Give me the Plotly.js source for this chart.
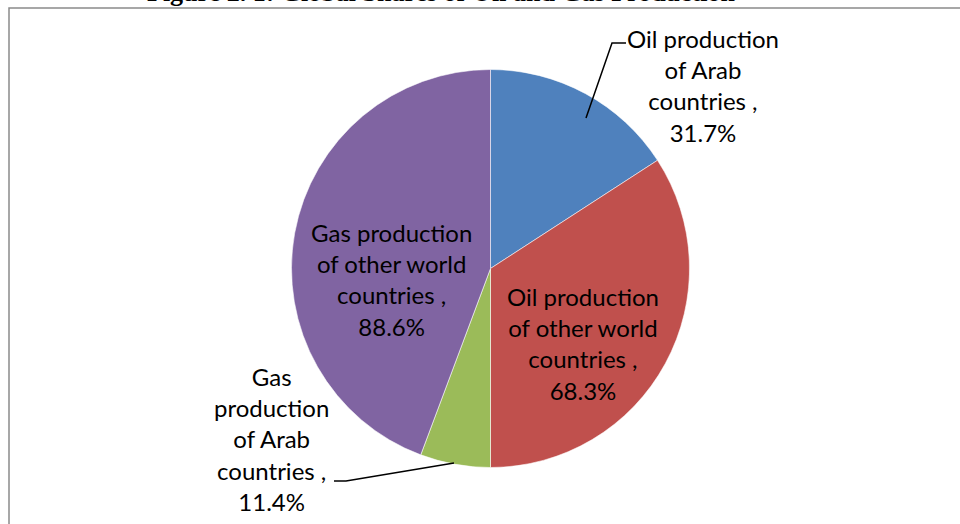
<!DOCTYPE html>
<html>
<head>
<meta charset="utf-8">
<script src="https://cdn.plot.ly/plotly-3.0.1.min.js"></script>
<style>html,body{margin:0;padding:0;background:#fff;}#chart{width:960px;height:524px;}</style>
</head>
<body>
<div id="chart"></div>
<script>
// ---- data ----
var categories = [
  "Oil production of Arab countries",
  "Oil production of other world countries",
  "Gas production of Arab countries",
  "Gas production of other world countries"
];
var shares = [31.7, 68.3, 11.4, 88.6];
var wrappedLabels = [
  "Oil production<br>of Arab<br>countries ,",
  "Oil production<br>of other world<br>countries ,",
  "Gas<br>production<br>of Arab<br>countries ,",
  "Gas production<br>of other world<br>countries ,"
];
var titleText = "Figure 2. 1: Global Shares of Oil and Gas Production";

// ---- styling ----
var colors = ["#4F81BD", "#C0504D", "#9BBB59", "#8064A2"];
var W = 960, H = 524;
function px(x) { return x / W; }
function py(y) { return 1 - y / H; }
// label centres (pixels)
var labelPos = [[703, 85], [583, 343], [271, 439], [391, 279]];
var labelFont = {family: "Lato, 'Open Sans', sans-serif", size: 24, color: "#000"};

var annotations = categories.map(function (c, i) {
  return {
    xref: "paper", yref: "paper",
    x: px(labelPos[i][0]), y: py(labelPos[i][1]),
    xanchor: "center", yanchor: "middle",
    text: wrappedLabels[i] + "<br>" + shares[i].toFixed(1) + "%",
    showarrow: false, align: "center", font: labelFont
  };
});
annotations.push({
  xref: "paper", yref: "paper", x: px(441), y: py(9),
  xanchor: "center", yanchor: "bottom",
  text: "<b>" + titleText + "</b>", showarrow: false,
  font: {family: "'Liberation Serif', 'Times New Roman', serif", size: 26, color: "#000"}
});

var cx = 490.5, cy = 268.5, r = 199;
var trace = {
  type: "pie",
  labels: categories,
  values: shares,
  sort: false,
  direction: "clockwise",
  rotation: 0,
  textinfo: "none",
  hoverinfo: "label+value",
  showlegend: false,
  marker: {colors: colors, line: {color: "rgba(255,255,255,0.55)", width: 1}},
  domain: {x: [px(cx - r), px(cx + r)], y: [py(cy + r), py(cy - r)]}
};

function path(pts) {
  return pts.map(function (p, i) { return (i ? "L" : "M") + px(p[0]) + "," + py(p[1]); }).join(" ");
}

var layout = {
  width: W, height: H,
  margin: {l: 0, r: 0, t: 0, b: 0},
  paper_bgcolor: "#fff",
  annotations: annotations,
  shapes: [
    {type: "rect", xref: "paper", yref: "paper", x0: px(9), x1: 1.02, y0: -0.02, y1: py(8),
     line: {color: "#8a8a8a", width: 1.5}},
    {type: "path", xref: "paper", yref: "paper", path: path([[626, 43], [612, 43], [586, 118]]),
     line: {color: "#000", width: 1.5}},
    {type: "path", xref: "paper", yref: "paper", path: path([[334, 481], [346, 481], [454, 463]]),
     line: {color: "#000", width: 1.5}}
  ]
};

Plotly.newPlot("chart", [trace], layout, {displayModeBar: false, staticPlot: true});
</script>
</body>
</html>
